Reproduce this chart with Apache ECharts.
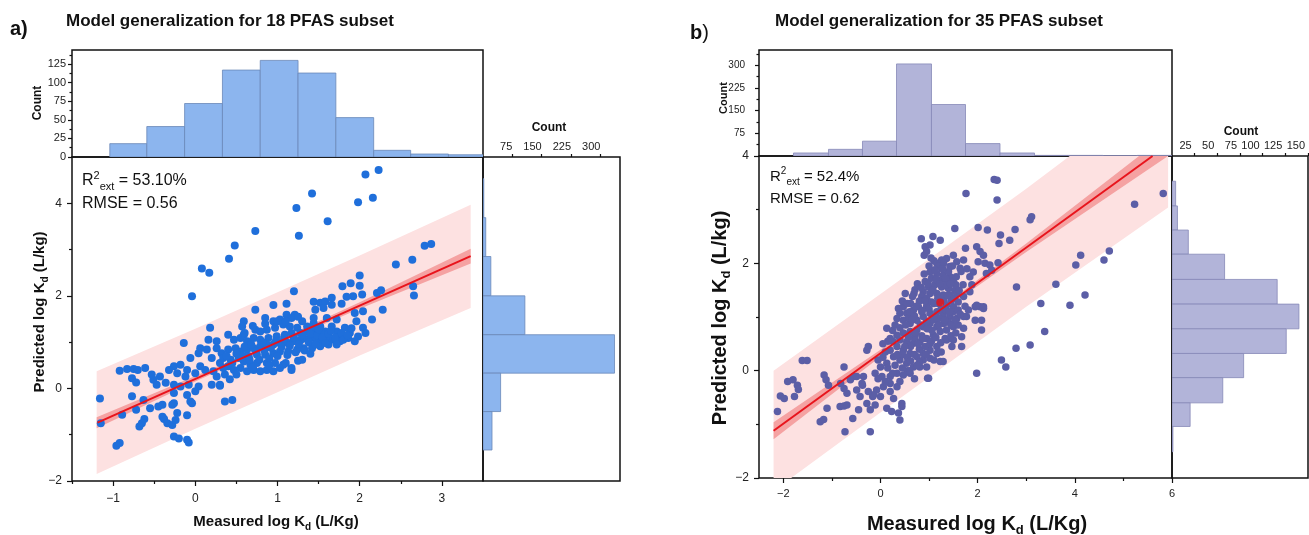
<!DOCTYPE html>
<html><head><meta charset="utf-8">
<script src="https://cdn.jsdelivr.net/npm/echarts@6/dist/echarts.min.js"></script>
<style>html,body{margin:0;padding:0;background:#fff}#c{width:1309px;height:535px}</style>
</head><body><div id="c"></div>
<script>
// ---------- Panel a data ----------
const aXTicks = [-1, 0, 1, 2, 3];
const aXMinor = [-1.5, -0.5, 0.5, 1.5, 2.5];
const aYTicks = [-2, 0, 2, 4];
const aYMinor = [-1, 1, 3];
const aTopCountTicks = [0, 25, 50, 75, 100, 125];
const aTopCountMinor = [12.5, 37.5, 62.5, 87.5, 112.5, 137.5];
const aRightCountTicks = [75, 150, 225, 300];
// [x0, x1, count]
const aTopHist = [[-1.04,-0.59,18],[-0.59,-0.13,41],[-0.13,0.33,72],[0.33,0.79,117],[0.79,1.25,130],[1.25,1.71,113],[1.71,2.17,53],[2.17,2.62,9],[2.62,3.08,4],[3.08,3.54,3]];
// [y0, y1, count]
const aRightHist = [[3.69,4.53,2],[2.85,3.69,7],[2.0,2.85,20],[1.16,2.0,107],[0.33,1.16,336],[-0.5,0.33,45],[-1.33,-0.5,23]];
const aPoints = [
[2.23,4.72],[2.07,4.62],[1.42,4.21],[2.16,4.12],[1.98,4.02],[1.23,3.90],[1.61,3.61],[0.73,3.40],[1.26,3.30],[0.48,3.09],[0.41,2.80],[0.08,2.59],[0.17,2.50],[2.87,3.12],[2.79,3.08],[2.44,2.68],[2.64,2.78],
[-1.16,-0.22],[-1.15,-0.75],[-0.96,-1.24],[-0.92,-1.18],[-0.89,-0.57],[-0.92,0.38],[-0.83,0.42],[-0.75,0.42],[-0.70,0.40],[-0.77,0.22],[-0.72,0.13],[-0.77,-0.17],[-0.72,-0.46],[-0.68,-0.82],[-0.65,-0.75],[-0.62,-0.66],[-0.40,-0.61],[-0.38,-0.66],[-0.34,-0.75],[-0.28,-0.79],[-0.24,-0.68],[-0.26,-1.04],[-0.20,-1.08],[-0.10,-1.11],[-0.08,-1.17],[-0.10,-0.58],
[-0.04,1.99],[1.20,2.10],[2.0,2.44],
[1.79,2.21],[1.89,2.27],[2.0,2.22],[2.03,2.03],[1.92,1.99],[1.84,1.98],[2.21,2.06],[2.26,2.12],[2.65,2.21],[2.66,2.01],
[1.44,1.87],[1.52,1.85],[1.58,1.88],[1.66,1.96],[1.66,1.81],[1.56,1.74],[1.46,1.70],[1.78,1.83],[1.11,1.83],[0.95,1.80],[0.73,1.70],[1.21,1.59],[1.11,1.59],[1.17,1.52],[1.03,1.49],[0.95,1.45],[0.85,1.52],[0.59,1.45],[2.28,1.70],[2.15,1.49],[2.04,1.67],[1.94,1.63],[1.96,1.45],[2.04,1.31],[2.07,1.20],[1.88,1.20],[1.82,1.31],[1.72,1.49],[1.60,1.52],[1.44,1.52],
[0.57,1.34],[0.59,1.16],[0.73,1.27],[0.79,1.23],[0.87,1.27],[0.97,1.31],[1.07,1.38],[1.15,1.34],[1.24,1.31],[1.36,1.34],[1.44,1.41],[1.52,1.34],[1.58,1.23],[1.66,1.34],[1.72,1.23],[1.76,1.13],[1.86,1.09],[1.94,1.02],[0.18,1.31],[0.16,1.05],[0.26,1.02],[-0.14,0.98],[0.40,1.16],[0.47,1.05],[0.55,1.09],[0.63,1.02],[0.71,1.09],[0.79,1.05],[0.89,1.09],[0.99,1.13],[1.09,1.16],[1.17,1.20],[1.28,1.20],[1.36,1.23],[1.44,1.27],[1.54,1.20],
[0.06,0.87],[0.04,0.76],[0.14,0.84],[0.26,0.87],[0.32,0.76],[0.40,0.84],[0.49,0.87],[0.55,0.80],[0.63,0.84],[0.71,0.87],[0.79,0.91],[0.87,0.95],[0.95,0.95],[1.03,0.98],[1.11,1.0],[1.19,1.02],[1.28,1.04],[1.36,1.07],[1.44,1.09],[1.52,1.04],[1.60,1.09],[1.68,1.05],[1.76,1.02],[1.62,0.95],[1.52,0.91],[1.42,0.87],[1.32,0.87],[1.24,0.84],[1.13,0.80],[1.03,0.80],[0.95,0.76],[0.85,0.73],[0.75,0.73],[0.65,0.69],[0.53,0.66],[0.43,0.62],[0.34,0.66],[0.20,0.66],[-0.06,0.66],[-0.18,0.51],[-0.26,0.48],
[0.40,0.48],[0.47,0.40],[0.55,0.44],[0.63,0.37],[0.71,0.40],[0.79,0.37],[0.87,0.40],[0.95,0.37],[1.03,0.44],[1.07,0.51],[1.17,0.44],[1.17,0.40],[0.97,0.55],[0.87,0.55],[0.75,0.55],[0.67,0.51],[0.59,0.58],[0.36,0.30],[0.34,0.44],[0.22,0.37],[0.26,0.26],[0.12,0.40],[0.06,0.48],[0.0,0.33],[-0.10,0.40],[-0.12,0.26],[-0.22,0.33],[-0.32,0.40],[-0.43,0.26],[-0.51,0.19],[-0.61,0.44],[-0.53,0.30],
[-0.47,0.08],[-0.36,0.12],[-0.26,0.08],[-0.18,0.04],[-0.08,0.08],[0.04,0.04],[0.20,0.08],[0.30,0.08],[0.0,-0.06],[-0.10,-0.14],[-0.26,-0.10],[-0.26,-0.32],[-0.06,-0.28],[-0.04,-0.32],[0.36,-0.28],[0.45,-0.25],[-0.63,-0.25],[-0.55,-0.43],[-0.45,-0.39],[-0.40,-0.35],[-0.28,-0.35],[-0.22,-0.53],[0.30,0.06],
[0.30,0.55],[0.38,0.70],[0.45,0.55],[0.50,0.75],[0.58,0.70],[0.60,0.90],[0.66,0.62],[0.68,0.95],[0.74,0.80],[0.78,0.62],[0.82,1.00],[0.84,0.82],[0.90,0.65],[0.92,0.88],[0.98,1.02],[1.00,0.70],[1.05,0.90],[1.08,1.08],[1.12,0.72],[1.15,0.92],[1.20,1.10],[1.22,0.78],[1.26,0.96],[1.30,1.15],[1.33,0.82],[1.38,1.00],[1.40,1.18],[1.46,0.95],[1.48,1.15],[1.50,1.28],[1.55,1.10],[1.58,0.98],[1.62,1.18],[1.65,1.25],[1.70,1.10],[1.72,0.95],[1.78,1.20],[1.80,1.05],[1.85,1.15],[1.90,1.30],[1.98,1.12],[1.25,0.60],[1.10,0.55],[0.90,0.50],[0.70,0.45],[0.50,0.30],[0.42,0.20],[1.30,0.62],[1.40,0.75],[0.60,1.20],[0.70,1.35],[0.85,1.40],[1.00,1.45],[1.10,1.45],[1.30,1.45],[1.25,1.55]
];
const aLine = [[-1.19,-0.74],[3.35,2.86]];
const aBandX = [-1.2, 0, 1, 2, 3.35];
const aPredLo = [-1.85,-0.87,-0.08,0.71,1.74];
const aPredHi = [0.37,1.29,2.08,2.87,3.97];
const aConfLo = [-0.86,0.15,0.96,1.72,2.70];
const aConfHi = [-0.62,0.27,1.04,1.86,3.02];

// ---------- Panel b data ----------
const bXTicks = [-2, 0, 2, 4, 6];
const bXMinor = [-1, 1, 3, 5];
const bYTicks = [-2, 0, 2, 4];
const bYMinor = [-1, 1, 3];
const bTopCountTicks = [75, 150, 225, 300];
const bTopCountMinor = [37.5, 112.5, 187.5, 262.5, 337.5];
const bRightCountTicks = [25, 50, 75, 100, 125, 150];
const bTopHist = [[-1.79,-1.07,10],[-1.07,-0.37,22],[-0.37,0.33,49],[0.33,1.05,304],[1.05,1.75,170],[1.75,2.46,41],[2.46,3.17,10],[3.17,3.87,2],[3.87,4.58,2],[4.58,5.28,1],[5.28,5.99,2]];
const bRightHist = [[3.07,3.53,4],[2.62,3.07,6],[2.17,2.62,18],[1.70,2.17,58],[1.24,1.70,116],[0.78,1.24,140],[0.32,0.78,126],[-0.13,0.32,79],[-0.60,-0.13,56],[-1.04,-0.60,20],[-1.51,-1.04,1]];
const bPoints = [
[2.34,3.56],[2.40,3.55],[2.40,3.18],[1.76,3.30],[5.82,3.30],[5.23,3.10],[4.71,2.23],[4.60,2.06],[4.12,2.15],[4.02,1.97],[4.21,1.41],[3.90,1.22],[3.61,1.61],
[-2.12,-0.76],[-2.06,-0.47],[-1.98,-0.52],[-1.91,-0.20],[-1.80,-0.17],[-1.71,-0.27],[-1.69,-0.35],[-1.77,-0.48],
[-1.61,0.19],[-1.51,0.19],[-1.16,-0.08],[-1.12,-0.17],[-1.07,-0.27],[-1.10,-0.70],[-1.24,-0.95],[-1.17,-0.91],[-0.75,0.07],[-0.73,-1.14],[-0.83,-0.67],[-0.75,-0.66],[-0.69,-0.64],[-0.57,-0.89],[-0.82,-0.24],[-0.75,-0.33],[-0.69,-0.42],[-0.62,-0.17],[-0.55,-0.11],
[-0.49,-0.36],[-0.42,-0.48],[-0.37,-0.27],[-0.35,-0.11],[-0.28,0.38],[-0.25,0.45],[-0.16,-0.48],[-0.11,-0.64],[-0.21,-0.73],[-0.21,-1.14],
[0.84,2.46],[1.08,2.50],[1.23,2.43],[1.53,2.65],[2.01,2.67],[2.20,2.62],[2.47,2.53],[2.44,2.37],[2.66,2.43],[2.77,2.63],[3.08,2.81],[3.11,2.87],[0.92,2.31],[1.02,2.34],[0.90,2.15],[0.95,2.22],[1.16,2.0],[1.26,2.06],[1.36,2.09],[1.50,2.15],[1.57,2.03],[1.71,2.06],[1.75,2.28],[1.98,2.31],[2.05,2.22],[2.12,2.15],[2.01,2.03],[2.15,2.0],[2.25,1.97],[2.42,2.01],[2.29,1.87],[2.18,1.81],[1.91,1.84],[1.84,1.75],[1.64,1.91],[1.43,1.94],[1.26,1.91],
[1.02,1.84],[1.16,1.81],[1.29,1.78],[1.43,1.75],[1.50,1.66],[1.36,1.69],[1.23,1.69],[1.05,1.72],[0.92,1.66],[0.99,1.56],[1.12,1.60],[1.26,1.56],[1.40,1.53],[1.53,1.50],[1.57,1.44],[1.43,1.41],[1.29,1.41],[1.16,1.44],[1.02,1.44],[0.88,1.47],[0.85,1.38],[0.95,1.35],[1.05,1.28],[1.19,1.25],[1.36,1.22],[1.50,1.19],[1.60,1.28],[1.71,1.38],[1.84,1.47],[1.88,1.60],[1.81,1.13],[1.77,1.01],[1.95,1.19],[2.05,1.19],[2.12,1.19],[2.08,0.94],[1.71,0.79],[1.50,0.82],[1.36,0.57],[1.50,0.57],[1.67,0.45],[1.47,0.45],[1.16,0.45],[1.02,0.38],[0.88,0.32],[1.23,0.17],[1.29,0.17],[0.95,0.07],[0.99,-0.14],
[0.51,1.44],[0.71,1.51],[0.69,1.44],[0.47,1.19],[0.37,1.16],[0.40,1.07],[0.54,1.07],[0.68,1.13],[0.78,1.19],[0.13,0.79],[0.34,0.97],[0.47,0.94],[0.61,0.88],[0.75,0.94],[0.88,1.01],[1.02,1.07],[1.16,1.10],[1.29,1.04],[1.43,1.01],[1.57,0.97],[1.50,1.10],[1.60,1.13],[1.16,0.94],[1.02,0.88],[0.88,0.82],[0.75,0.76],[0.61,0.73],[0.47,0.70],[0.34,0.66],[0.40,0.57],[0.54,0.54],[0.68,0.51],[0.81,0.54],[0.95,0.60],[1.09,0.66],[1.23,0.73],[1.36,0.76],[1.16,0.82],
[0.34,0.45],[0.47,0.38],[0.61,0.32],[0.75,0.26],[0.88,0.20],[1.02,0.23],[1.16,0.32],[0.20,0.38],[0.27,0.26],[0.40,0.20],[0.54,0.14],[0.68,0.07],[0.81,0.07],[0.13,0.14],[0.0,0.07],[-0.11,-0.05],[0.03,-0.11],[0.20,-0.11],[0.34,-0.05],[0.47,-0.08],[0.61,-0.05],[0.20,-0.24],[0.06,-0.30],[-0.08,-0.36],[0.34,-0.30],[0.20,-0.39],[0.0,-0.48],[-0.14,-0.45],[-0.25,-0.39],[-0.38,-0.24],[-0.49,-0.11],[-0.45,-0.73],[-0.28,-0.61],[0.13,-0.70],[0.23,-0.76],[0.37,-0.79],[0.44,-0.61],[0.40,-0.92],[0.44,-0.67],[0.27,-0.52],[0.97,-0.14],
[1.33,0.60],[1.67,0.63],[2.08,0.76],[1.71,1.01],[1.95,0.94],[1.98,1.22],[2.12,1.16],[2.80,1.56],[3.30,1.25],[3.38,0.73],[3.08,0.48],[2.79,0.42],[2.49,0.20],[2.58,0.07],[1.98,-0.05],
[0.25,0.55],[0.30,0.10],[0.45,0.30],[0.55,0.25],[0.62,0.45],[0.70,0.62],[0.80,0.40],[0.92,0.45],[0.85,0.65],[1.05,0.55],[1.10,0.20],[1.25,0.35],[1.30,0.88],[1.40,0.90],[1.45,0.65],[1.55,0.70],[1.60,0.85],[1.25,1.15],[1.10,1.25],[0.95,1.20],[0.80,1.30],[0.62,1.25],[0.58,0.98],[0.70,1.02],[0.85,1.10],[0.95,0.92],[1.08,1.00],[1.20,0.98],[1.35,1.12],[1.45,1.30],[1.55,1.60],[1.35,1.60],[1.15,1.70],[1.00,1.95],[1.10,2.05],[1.20,1.95],[1.30,2.00],[1.40,1.85],[0.55,0.00],[0.70,-0.15],[0.45,0.05],[0.10,0.35],[0.25,0.75],[0.15,0.55],[-0.05,0.20],[0.05,0.50],
[0.30,0.85],[0.35,0.30],[0.40,0.80],[0.45,1.30],[0.50,0.45],[0.52,0.85],[0.55,1.25],[0.58,0.62],[0.60,1.10],[0.62,0.18],[0.65,0.95],[0.66,1.38],[0.70,0.30],[0.72,0.70],[0.74,1.20],[0.76,1.62],[0.78,0.50],[0.80,0.15],[0.82,0.85],[0.84,1.55],[0.86,1.12],[0.88,0.60],[0.90,1.80],[0.92,1.30],[0.94,0.30],[0.96,0.78],[0.98,1.62],[1.00,1.15],[1.02,0.50],[1.04,2.10],[1.06,0.75],[1.08,1.50],[1.10,0.95],[1.12,1.88],[1.14,0.62],[1.18,1.35],[1.20,0.85],[1.22,1.62],[1.24,0.52],[1.28,1.90],[1.30,1.30],[1.32,0.95],[1.34,1.72],[1.38,1.40],[1.42,1.10],[1.44,1.62],[1.46,0.85],[1.48,1.95],[1.52,1.35],[1.54,0.95],[1.56,1.75],[1.62,1.50],[1.64,1.05],[1.66,1.85],[1.70,1.60],[1.74,1.20],[1.78,1.90],[0.20,0.60],[0.15,0.05],[0.05,0.25],[0.25,-0.05],[0.40,-0.20],[0.10,-0.20],[-0.05,-0.15],[0.60,0.00],[0.75,0.10]
];
const bCentroid = [[1.23,1.27]];
const bLine = [[-2.2,-1.12],[5.6,4.0]];
const bBandX = [-2.2, 0, 1.2, 3, 5.92];
const bPredLo = [-2.24,-0.78,0.01,1.19,3.04];
const bPredHi = [0.0,1.43,2.21,3.39,5.38];
const bConfLo = [-1.28,0.26,1.07,2.21,4.0];
const bConfHi = [-0.96,0.39,1.15,2.37,4.42];

// ---------- helpers ----------
const FONT = 'Liberation Sans';
const minus = v => String(v).replace('-', '\u2212');
function axis(o) {
  return Object.assign({type:'value', axisLine:{show:false,onZero:false}, splitLine:{show:false},
    axisTick:{show:false}, axisLabel:{show:false}}, o);
}
function ticks(vals, len) { return {show:true, customValues:vals, length:len, lineStyle:{color:'#111', width:1.2}}; }
function labels(vals, extra) {
  return Object.assign({show:true, customValues:vals, color:'#222', fontSize:12, fontFamily:FONT, formatter:minus}, extra || {});
}
function vBars(fill, stroke) {
  return function (p, api) {
    const a = api.coord([api.value(0), api.value(2)]);
    const b = api.coord([api.value(1), 0]);
    return {type:'rect', shape:{x:a[0], y:a[1], width:b[0]-a[0], height:b[1]-a[1]}, style:{fill, stroke, lineWidth:0.8}};
  };
}
function hBars(fill, stroke) {
  return function (p, api) {
    const a = api.coord([0, api.value(1)]);
    const b = api.coord([api.value(2), api.value(0)]);
    return {type:'rect', shape:{x:a[0], y:a[1], width:b[0]-a[0], height:b[1]-a[1]}, style:{fill, stroke, lineWidth:0.8}};
  };
}
function band(xs, lo, hi, fill) {
  return function (p, api) {
    const pts = [];
    for (let i = 0; i < xs.length; i++) pts.push(api.coord([xs[i], hi[i]]));
    for (let i = xs.length - 1; i >= 0; i--) pts.push(api.coord([xs[i], lo[i]]));
    return {type:'polygon', shape:{points:pts}, style:{fill}};
  };
}
function txt(x, y, text, font, opts) {
  opts = opts || {};
  return {type:'text', x, y, rotation: opts.rot || 0, z: 100,
    style: {text, font, fill:'#111', align: opts.align || 'left', verticalAlign:'middle',
            textAlign: opts.align || 'left', textVerticalAlign:'middle', rich: opts.rich}};
}
function subRich(size) {
  return {b:{font:'bold '+size+'px '+FONT, fill:'#111', lineHeight:size+6},
          s:{font:'bold '+Math.round(size*0.65)+'px '+FONT, fill:'#111', verticalAlign:'bottom', lineHeight:Math.round(size*0.7)}};
}
function r2Rich(size) {
  return {n:{font:size+'px '+FONT, fill:'#111', lineHeight:size+6},
          p:{font:Math.round(size*0.68)+'px '+FONT, fill:'#111', verticalAlign:'top', lineHeight:Math.round(size*0.68)},
          s:{font:Math.round(size*0.68)+'px '+FONT, fill:'#111', verticalAlign:'bottom', lineHeight:Math.round(size*0.68)}};
}

const border = {show:true, borderColor:'#111', borderWidth:1.5, backgroundColor:'transparent'};
const aBarFill = '#8cb5ee', aBarStroke = '#6a88b8', aDot = '#1f6fdb';
const bBarFill = '#b2b4d9', bBarStroke = '#8789b8', bDot = '#5b5ea6';
const predFill = '#fde1e1', confFill = '#f5a2a2', lineRed = '#e8141c';

const option = {
  animation: false,
  textStyle: {fontFamily: FONT},
  grid: [
    Object.assign({left:72, top:50, width:411, height:107}, border),
    Object.assign({left:72, top:157, width:411, height:324}, border),
    Object.assign({left:483, top:157, width:137, height:324}, border),
    Object.assign({left:759, top:50, width:413, height:106}, border),
    Object.assign({left:759, top:156, width:413, height:322}, border),
    Object.assign({left:1172, top:156, width:136, height:322}, border)
  ],
  xAxis: [
    axis({gridIndex:0, min:-1.5, max:3.5}),
    axis({gridIndex:1, min:-1.5, max:3.5, position:'bottom', axisTick:ticks(aXTicks,5), axisLabel:labels(aXTicks,{margin:12})}),
    axis({gridIndex:1, min:-1.5, max:3.5, position:'bottom', axisTick:ticks(aXMinor,3)}),
    axis({gridIndex:2, min:0, max:350, position:'top', axisTick:ticks(aRightCountTicks,3), axisLabel:labels(aRightCountTicks,{align:'right', margin:5, fontSize:11})}),
    axis({gridIndex:3, min:-2.5, max:6}),
    axis({gridIndex:4, min:-2.5, max:6, position:'bottom', axisTick:ticks(bXTicks,5), axisLabel:labels(bXTicks,{margin:10, fontSize:11})}),
    axis({gridIndex:4, min:-2.5, max:6, position:'bottom', axisTick:ticks(bXMinor,3)}),
    axis({gridIndex:5, min:0, max:150, position:'top', axisTick:ticks(bRightCountTicks,3), axisLabel:labels(bRightCountTicks,{align:'right', margin:5, fontSize:11, padding:[0,3,0,0]})})
  ],
  yAxis: [
    axis({gridIndex:0, min:0, max:144, position:'left', axisTick:ticks(aTopCountTicks,4), axisLabel:labels(aTopCountTicks,{margin:6, fontSize:11})}),
    axis({gridIndex:0, min:0, max:144, position:'left', axisTick:ticks(aTopCountMinor,2.5)}),
    axis({gridIndex:1, min:-2, max:5, position:'left', axisTick:ticks(aYTicks,5), axisLabel:labels(aYTicks,{margin:10})}),
    axis({gridIndex:1, min:-2, max:5, position:'left', axisTick:ticks(aYMinor,3)}),
    axis({gridIndex:2, min:-2, max:5}),
    axis({gridIndex:3, min:0, max:350, position:'left', axisTick:ticks(bTopCountTicks,4), axisLabel:labels(bTopCountTicks,{margin:14, fontSize:10})}),
    axis({gridIndex:3, min:0, max:350, position:'left', axisTick:ticks(bTopCountMinor,2.5)}),
    axis({gridIndex:4, min:-2, max:4, position:'left', axisTick:ticks(bYTicks,5), axisLabel:labels(bYTicks,{margin:10})}),
    axis({gridIndex:4, min:-2, max:4, position:'left', axisTick:ticks(bYMinor,3)}),
    axis({gridIndex:5, min:-2, max:4})
  ],
  series: [
    {type:'custom', xAxisIndex:0, yAxisIndex:0, renderItem:vBars(aBarFill,aBarStroke), data:aTopHist, clip:true, silent:true},
    {type:'custom', xAxisIndex:3, yAxisIndex:4, renderItem:hBars(aBarFill,aBarStroke), data:aRightHist, clip:true, silent:true},
    {type:'custom', xAxisIndex:1, yAxisIndex:2, renderItem:band(aBandX,aPredLo,aPredHi,predFill), data:[[aBandX[0],aPredLo[0]]], clip:true, silent:true, z:1},
    {type:'custom', xAxisIndex:1, yAxisIndex:2, renderItem:band(aBandX,aConfLo,aConfHi,confFill), data:[[aBandX[0],aConfLo[0]]], clip:true, silent:true, z:1},
    {type:'scatter', xAxisIndex:1, yAxisIndex:2, data:aPoints, symbolSize:8, itemStyle:{color:aDot, opacity:1}, z:2, silent:true},
    {type:'line', xAxisIndex:1, yAxisIndex:2, data:aLine, symbol:'none', lineStyle:{color:lineRed, width:2}, z:3, silent:true},

    {type:'custom', xAxisIndex:4, yAxisIndex:5, renderItem:vBars(bBarFill,bBarStroke), data:bTopHist, clip:true, silent:true},
    {type:'custom', xAxisIndex:7, yAxisIndex:9, renderItem:hBars(bBarFill,bBarStroke), data:bRightHist, clip:true, silent:true},
    {type:'custom', xAxisIndex:5, yAxisIndex:7, renderItem:band(bBandX,bPredLo,bPredHi,predFill), data:[[bBandX[0],bPredHi[0]]], clip:true, silent:true, z:1},
    {type:'custom', xAxisIndex:5, yAxisIndex:7, renderItem:band(bBandX,bConfLo,bConfHi,confFill), data:[[bBandX[0],bConfHi[0]]], clip:true, silent:true, z:1},
    {type:'scatter', xAxisIndex:5, yAxisIndex:7, data:bPoints, symbolSize:7.5, itemStyle:{color:bDot, opacity:1}, z:2, silent:true},
    {type:'line', xAxisIndex:5, yAxisIndex:7, data:bLine, symbol:'none', lineStyle:{color:lineRed, width:2}, z:3, silent:true},
    {type:'scatter', xAxisIndex:5, yAxisIndex:7, data:bCentroid, symbolSize:8, itemStyle:{color:'#ee1111'}, z:4, silent:true}
  ],
  graphic: [
    txt(10, 29, 'a)', 'bold 20px '+FONT),
    txt(66, 21, 'Model generalization for 18 PFAS subset', 'bold 17px '+FONT),
    txt(690, 33, '{b|b}{n|)}', '20px '+FONT, {rich:{b:{font:'bold 20px '+FONT, fill:'#111'}, n:{font:'20px '+FONT, fill:'#111'}}}),
    txt(775, 21, 'Model generalization for 35 PFAS subset', 'bold 17px '+FONT),
    txt(82, 181, '{n|R}{p|2}{s|ext}{n| = 53.10%}', '16px '+FONT, {rich:r2Rich(16)}),
    txt(82, 204, 'RMSE = 0.56', '16px '+FONT),
    txt(770, 177, '{n|R}{p|2}{s|ext}{n| = 52.4%}', '15px '+FONT, {rich:r2Rich(15)}),
    txt(770, 199, 'RMSE = 0.62', '15px '+FONT),
    txt(40, 312, '{b|Predicted log K}{s|d}{b| (L/kg)}', 'bold 15px '+FONT, {rot:Math.PI/2, align:'center', rich:subRich(15)}),
    txt(276, 522, '{b|Measured log K}{s|d}{b| (L/Kg)}', 'bold 15px '+FONT, {align:'center', rich:subRich(15)}),
    txt(720, 318, '{b|Predicted log K}{s|d}{b| (L/kg)}', 'bold 20px '+FONT, {rot:Math.PI/2, align:'center', rich:subRich(20)}),
    txt(977, 524, '{b|Measured log K}{s|d}{b| (L/Kg)}', 'bold 20px '+FONT, {align:'center', rich:subRich(20)}),
    txt(38, 103, 'Count', 'bold 12px '+FONT, {rot:Math.PI/2, align:'center'}),
    txt(724, 98, 'Count', 'bold 11px '+FONT, {rot:Math.PI/2, align:'center'}),
    txt(549, 128, 'Count', 'bold 12px '+FONT, {align:'center'}),
    txt(1241, 132, 'Count', 'bold 12px '+FONT, {align:'center'})
  ]
};
const chart = echarts.init(document.getElementById('c'));
chart.setOption(option);
</script>
</body></html>
